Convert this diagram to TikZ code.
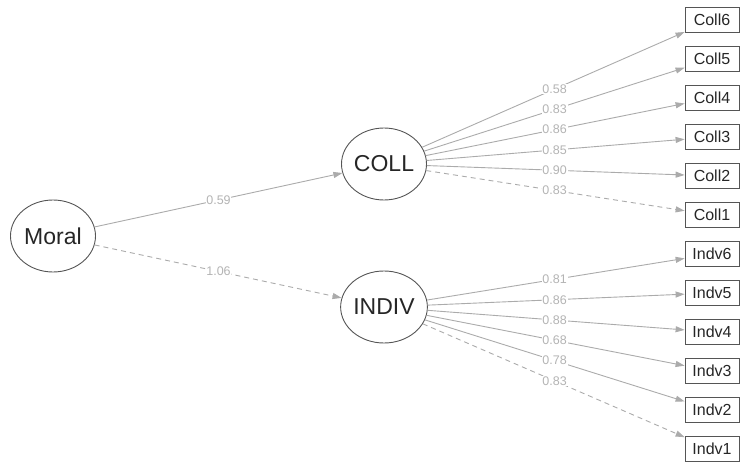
\documentclass[tikz,border=0pt]{standalone}
\usepackage{fontspec}
\setmainfont{Liberation Sans}
\usetikzlibrary{arrows.meta,calc,shapes.geometric}
\definecolor{edgegray}{HTML}{ABABAB}
\definecolor{labgray}{HTML}{B4B4B4}
\definecolor{bordergray}{HTML}{555555}
\tikzset{
  latent/.style={ellipse, draw=bordergray, line width=0.9pt, minimum width=85pt, minimum height=72pt, inner sep=0pt, font=\fontsize{23}{23}\selectfont, text=black!85},
  manifest/.style={rectangle, draw=bordergray, line width=0.8pt, minimum width=54pt, minimum height=25pt, inner sep=0pt, font=\fontsize{16}{16}\selectfont, text=black!85},
  path/.style={draw=edgegray, line width=0.9pt, -{Triangle[length=9pt,width=6pt]}, color=edgegray},
  fixed/.style={path, dash pattern=on 5pt off 4pt},
  elab/.style={fill=white, inner sep=0.8pt, text=labgray, font=\fontsize{12.5}{12.5}\selectfont},
}
\begin{document}
\begin{tikzpicture}[x=1pt,y=-1pt]
\useasboundingbox (0,0) rectangle (741,465);
\node[latent] (moral) at (53,236) {Moral};
\node[latent] (coll) at (384,164) {COLL};
\node[latent] (indiv) at (384,307) {INDIV};
\foreach \n/\y in {6/20,5/59,4/98,3/137,2/176,1/215}{
  \node[manifest] (c\n) at (712,\y) {Coll\n};
}
\foreach \n/\y in {6/254,5/293,4/332,3/371,2/410,1/449}{
  \node[manifest] (i\n) at (712,\y) {Indv\n};
}
% structural paths
\draw[path] (moral) -- (coll);
\draw[fixed] (moral) -- (indiv);
\node[elab] at ($(moral)!0.5!(coll)$) {0.59};
\node[elab] at ($(moral)!0.5!(indiv)$) {1.06};
% COLL loadings
\foreach \n in {6,5,4,3,2}{
  \draw[path] (coll) -- (c\n);
}
\draw[fixed] (coll) -- (c1);
\foreach \n/\v in {6/0.58,5/0.83,4/0.86,3/0.85,2/0.90,1/0.83}{
  \node[elab] at ($(coll)!0.52!(c\n)$) {\v};
}
% INDIV loadings
\foreach \n in {6,5,4,3,2}{
  \draw[path] (indiv) -- (i\n);
}
\draw[fixed] (indiv) -- (i1);
\foreach \n/\v in {6/0.81,5/0.86,4/0.88,3/0.68,2/0.78,1/0.83}{
  \node[elab] at ($(indiv)!0.52!(i\n)$) {\v};
}
\end{tikzpicture}
\end{document}
